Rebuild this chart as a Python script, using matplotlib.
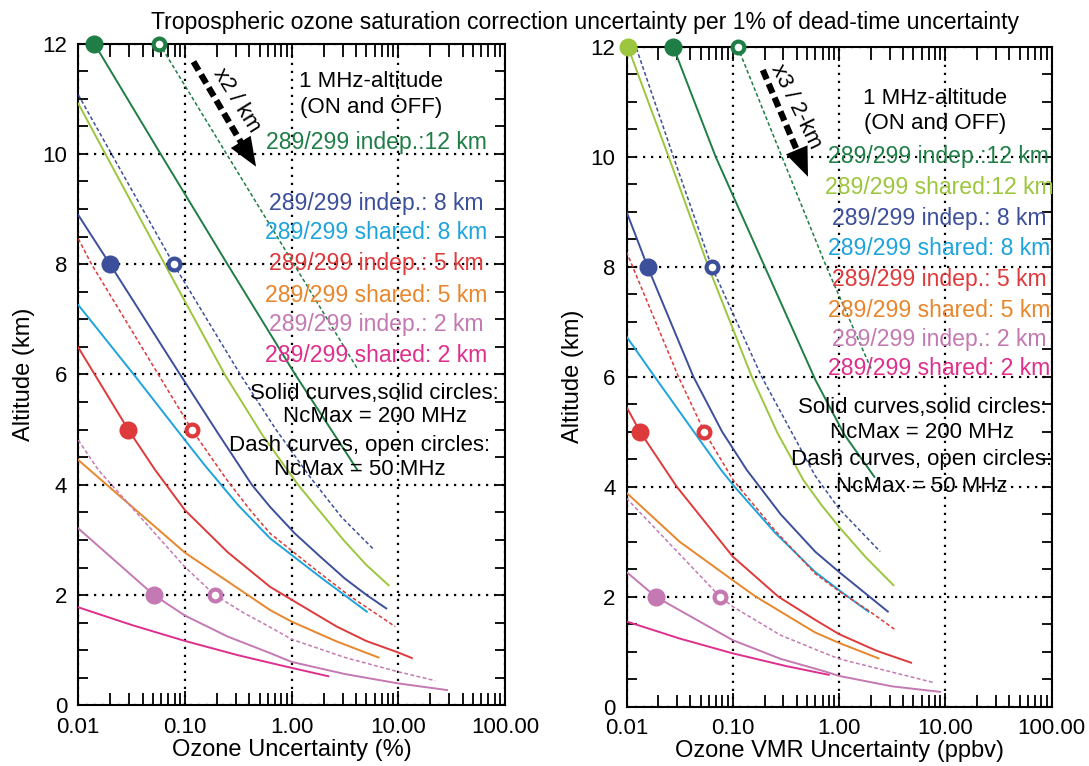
import matplotlib
matplotlib.use('Agg')
import matplotlib.pyplot as plt
from matplotlib.ticker import FixedLocator, FixedFormatter, MultipleLocator, NullFormatter

plt.rcParams['font.family'] = ['Liberation Sans', 'DejaVu Sans']

# ------------------------------------------------------------------
# Datos: (incertidumbre, altitud km)
# ------------------------------------------------------------------
# Panel izquierdo: Ozone Uncertainty (%)
l_indep12_200_x = [0.0141, 0.059, 0.25, 1.08, 4.1]
l_indep12_200_y = [12, 10, 8, 6, 4.28]
l_indep12_50_x = [0.0574, 0.245, 1.05, 4.12]
l_indep12_50_y = [12, 10, 8, 6.11]
l_shared12_200_x = [0.01, 0.0646, 0.236, 0.537, 1.15, 3.06, 5.0, 8.1]
l_shared12_200_y = [10.91, 8, 6, 4.89, 4, 3.0, 2.55, 2.18]
l_indep8_50_x = [0.01, 0.0282, 0.0794, 0.33, 0.708, 1.49, 2.95, 5.87]
l_indep8_50_y = [11.07, 9.52, 7.98, 6, 5.01, 4.14, 3.41, 2.83]
l_indep8_200_x = [0.01, 0.0198, 0.09, 0.2, 0.424, 0.628, 1.07, 1.85, 3.16, 5.07, 7.7]
l_indep8_200_y = [8.89, 8, 6, 4.96, 4, 3.6, 3.12, 2.70, 2.30, 2, 1.76]
l_shared8_200_x = [0.01, 0.0331, 0.1, 0.154, 0.316, 0.628, 1.85, 5.07]
l_shared8_200_y = [7.26, 6, 4.81, 4.35, 3.63, 3.03, 2.33, 1.70]
l_indep5_50_x = [0.01, 0.0133, 0.0563, 0.116, 0.245, 0.398, 0.628, 1.58, 3.41, 9.35]
l_indep5_50_y = [8.46, 8, 6, 5, 4.1, 3.57, 3.12, 2.5, 2.0, 1.43]
l_indep5_200_x = [0.01, 0.0294, 0.0525, 0.1, 0.251, 0.628, 2.65, 5.0, 10, 13.4]
l_indep5_200_y = [6.49, 5, 4.27, 3.54, 2.78, 2.15, 1.43, 1.17, 0.96, 0.86]
l_shared5_200_x = [0.01, 0.0185, 0.1, 0.251, 0.628, 1.0, 2.65, 6.52]
l_shared5_200_y = [4.45, 4, 2.77, 2.25, 1.73, 1.52, 1.16, 0.87]
l_indep2_50_x = [0.01, 0.0154, 0.1, 0.191, 0.355, 0.628, 1.0, 3.16, 10, 22.2]
l_indep2_50_y = [4.81, 4.27, 2.51, 2.0, 1.68, 1.42, 1.2, 0.87, 0.61, 0.45]
l_indep2_200_x = [0.01, 0.0513, 0.1, 0.251, 0.628, 1.0, 3.16, 10, 28.6]
l_indep2_200_y = [3.21, 2.0, 1.63, 1.25, 0.95, 0.79, 0.57, 0.40, 0.28]
l_shared2_200_x = [0.01, 0.0316, 0.1, 0.316, 0.78, 2.21]
l_shared2_200_y = [1.78, 1.46, 1.17, 0.91, 0.73, 0.53]

l_filled_x = [0.0141, 0.0198, 0.0294, 0.0513]
l_filled_y = [12, 8, 5, 2]
l_open_x = [0.0574, 0.0794, 0.116, 0.191]
l_open_y = [12, 8, 5, 2]

# Panel derecho: Ozone VMR Uncertainty (ppbv)
r_indep12_200_x = [0.0275, 0.069, 0.2, 0.6, 1.12, 2.15]
r_indep12_200_y = [12, 10, 8, 5.94, 4.95, 4.18]
r_indep12_50_x = [0.111, 0.29, 0.76, 2.0]
r_indep12_50_y = [12, 10, 8, 6.15]
r_shared12_200_x = [0.0103, 0.0249, 0.0589, 0.151, 0.263, 0.462, 0.676, 1.0, 1.78, 3.25]
r_shared12_200_y = [12, 10, 8, 6, 4.98, 4.12, 3.68, 3.27, 2.72, 2.21]
r_indep8_50_x = [0.0124, 0.0282, 0.0634, 0.187, 0.596, 1.0, 2.44]
r_indep8_50_y = [11.97, 9.95, 8, 6, 4.2, 3.6, 2.82]
r_indep8_200_x = [0.01, 0.0158, 0.0426, 0.0794, 0.136, 0.282, 0.596, 1.0, 2.88]
r_indep8_200_y = [9.0, 8, 6, 5.0, 4.3, 3.5, 2.82, 2.45, 1.73]
r_shared8_200_x = [0.01, 0.0184, 0.078, 0.104, 0.251, 0.596, 1.0, 1.89]
r_shared8_200_y = [6.73, 6, 4.3, 4.0, 3.16, 2.45, 2.12, 1.73]
r_indep5_50_x = [0.01, 0.0308, 0.054, 0.101, 0.251, 0.596, 1.0, 1.89, 3.43]
r_indep5_50_y = [8.27, 6, 5.0, 4.12, 3.2, 2.42, 2.1, 1.75, 1.39]
r_indep5_200_x = [0.01, 0.0134, 0.0297, 0.1, 0.269, 0.596, 1.0, 2.24, 4.77]
r_indep5_200_y = [5.45, 5.0, 4.0, 2.73, 2.0, 1.58, 1.32, 1.02, 0.8]
r_shared5_200_x = [0.01, 0.0316, 0.1, 0.165, 0.596, 1.0, 2.35]
r_shared5_200_y = [3.89, 3.0, 2.30, 2.0, 1.35, 1.16, 0.88]
r_indep2_50_x = [0.01, 0.0759, 0.1, 0.282, 0.74, 1.0, 7.74]
r_indep2_50_y = [3.79, 2.0, 1.82, 1.30, 0.97, 0.87, 0.44]
r_indep2_200_x = [0.01, 0.0188, 0.1, 0.282, 0.74, 1.0, 3.16, 8.96]
r_indep2_200_y = [2.45, 2.0, 1.21, 0.87, 0.64, 0.56, 0.37, 0.27]
r_shared2_200_x = [0.01, 0.0316, 0.1, 0.316, 0.8]
r_shared2_200_y = [1.55, 1.24, 0.97, 0.74, 0.58]

r_filled_x = [0.0103, 0.0275, 0.0158, 0.0134, 0.0188]
r_filled_y = [12, 12, 8, 5, 2]
r_open_x = [0.111, 0.0634, 0.054, 0.0759]
r_open_y = [12, 8, 5, 2]

# Textos
titulo = 'Tropospheric ozone saturation correction uncertainty per 1% of dead-time uncertainty'
leyenda_izq = ['289/299 indep.:12 km', '289/299 indep.: 8 km', '289/299 shared: 8 km',
               '289/299 indep.: 5 km', '289/299 shared: 5 km', '289/299 indep.: 2 km',
               '289/299 shared: 2 km']
leyenda_der = ['289/299 indep.:12 km', '289/299 shared:12 km', '289/299 indep.: 8 km',
               '289/299 shared: 8 km', '289/299 indep.: 5 km', '289/299 shared: 5 km',
               '289/299 indep.: 2 km', '289/299 shared: 2 km']
xticks = [0.01, 0.1, 1, 10, 100]
xtick_labels = ['0.01', '0.10', '1.00', '10.00', '100.00']

# Colores
C_DKGREEN = '#1f7d46'
C_LTGREEN = '#9cc63d'
C_BLUE = '#3c4f9b'
C_CYAN = '#1ea4dc'
C_RED = '#de3a3b'
C_ORANGE = '#e8862c'
C_PURPLE = '#c479b2'
C_MAGENTA = '#de2f8c'

DASH = (0, (2.5, 1.6))
FS = 16

# ------------------------------------------------------------------
fig = plt.figure(figsize=(10.89, 7.66), dpi=100)
ax1 = fig.add_axes([0.0719, 0.079, 0.3918, 0.8642])
ax2 = fig.add_axes([0.5753, 0.0774, 0.3903, 0.8616])


def curva(ax, x, y, color, dash=False):
    if dash:
        ax.plot(x, y, color=color, lw=1.1, ls=DASH, zorder=3)
    else:
        ax.plot(x, y, color=color, lw=1.4, zorder=3)


def puntos(ax, fx, fy, fcol, ox, oy, ocol):
    for x, y, c in zip(fx, fy, fcol):
        ax.plot(x, y, 'o', ms=12, color=c, mec=c, zorder=5, clip_on=False)
    for x, y, c in zip(ox, oy, ocol):
        ax.plot(x, y, 'o', ms=8.5, mfc='white', mec=c, mew=3, zorder=5, clip_on=False)


def ejes(ax, xlabel):
    ax.set_xscale('log')
    ax.set_xlim(0.01, 100)
    ax.set_ylim(0, 12)
    ax.xaxis.set_major_locator(FixedLocator(xticks))
    ax.xaxis.set_major_formatter(FixedFormatter(xtick_labels))
    ax.xaxis.set_minor_locator(FixedLocator([m * d for d in [0.01, 0.1, 1, 10] for m in range(2, 10)]))
    ax.xaxis.set_minor_formatter(NullFormatter())
    ax.yaxis.set_major_locator(MultipleLocator(2))
    ax.yaxis.set_minor_locator(MultipleLocator(0.5))
    ax.tick_params(which='both', direction='in', top=True, right=True, labelsize=FS, width=1.3)
    ax.tick_params(which='major', length=10, pad=8)
    ax.tick_params(axis='x', which='minor', length=9)
    ax.tick_params(axis='y', which='minor', length=7)
    ax.tick_params(axis='y', which='major', length=7)
    for s in ax.spines.values():
        s.set_linewidth(1.5)
    ax.grid(True, which='major', color='black', ls=(0, (1, 2.6)), lw=1.6, zorder=1)
    ax.set_xlabel(xlabel, fontsize=17, labelpad=1)
    ax.set_ylabel('Altitude (km)', fontsize=17, labelpad=5)


# Panel izquierdo
curva(ax1, l_indep12_200_x, l_indep12_200_y, C_DKGREEN)
curva(ax1, l_indep12_50_x, l_indep12_50_y, C_DKGREEN, dash=True)
curva(ax1, l_shared12_200_x, l_shared12_200_y, C_LTGREEN)
curva(ax1, l_indep8_50_x, l_indep8_50_y, C_BLUE, dash=True)
curva(ax1, l_indep8_200_x, l_indep8_200_y, C_BLUE)
curva(ax1, l_shared8_200_x, l_shared8_200_y, C_CYAN)
curva(ax1, l_indep5_50_x, l_indep5_50_y, C_RED, dash=True)
curva(ax1, l_indep5_200_x, l_indep5_200_y, C_RED)
curva(ax1, l_shared5_200_x, l_shared5_200_y, C_ORANGE)
curva(ax1, l_indep2_50_x, l_indep2_50_y, C_PURPLE, dash=True)
curva(ax1, l_indep2_200_x, l_indep2_200_y, C_PURPLE)
curva(ax1, l_shared2_200_x, l_shared2_200_y, C_MAGENTA)
puntos(ax1, l_filled_x, l_filled_y, [C_DKGREEN, C_BLUE, C_RED, C_PURPLE],
       l_open_x, l_open_y, [C_DKGREEN, C_BLUE, C_RED, C_PURPLE])
ejes(ax1, 'Ozone Uncertainty (%)')

# Panel derecho
curva(ax2, r_indep12_200_x, r_indep12_200_y, C_DKGREEN)
curva(ax2, r_indep12_50_x, r_indep12_50_y, C_DKGREEN, dash=True)
curva(ax2, r_shared12_200_x, r_shared12_200_y, C_LTGREEN)
curva(ax2, r_indep8_50_x, r_indep8_50_y, C_BLUE, dash=True)
curva(ax2, r_indep8_200_x, r_indep8_200_y, C_BLUE)
curva(ax2, r_shared8_200_x, r_shared8_200_y, C_CYAN)
curva(ax2, r_indep5_50_x, r_indep5_50_y, C_RED, dash=True)
curva(ax2, r_indep5_200_x, r_indep5_200_y, C_RED)
curva(ax2, r_shared5_200_x, r_shared5_200_y, C_ORANGE)
curva(ax2, r_indep2_50_x, r_indep2_50_y, C_PURPLE, dash=True)
curva(ax2, r_indep2_200_x, r_indep2_200_y, C_PURPLE)
curva(ax2, r_shared2_200_x, r_shared2_200_y, C_MAGENTA)
puntos(ax2, r_filled_x, r_filled_y, [C_LTGREEN, C_DKGREEN, C_BLUE, C_RED, C_PURPLE],
       r_open_x, r_open_y, [C_DKGREEN, C_BLUE, C_RED, C_PURPLE])
ejes(ax2, 'Ozone VMR Uncertainty (ppbv)')

# Textos del panel izquierdo
kw = dict(transform=ax1.transAxes, ha='center', va='center', fontsize=FS)
ax1.text(0.686, 0.942, '1 MHz-altitude', **kw)
ax1.text(0.686, 0.904, '(ON and OFF)', **kw)
for txt, fy, c in zip(leyenda_izq, [0.851, 0.759, 0.714, 0.667, 0.620, 0.575, 0.529],
                      [C_DKGREEN, C_BLUE, C_CYAN, C_RED, C_ORANGE, C_PURPLE, C_MAGENTA]):
    ax1.text(0.698, fy, txt, color=c, transform=ax1.transAxes, ha='center', va='center',
             fontsize=16.6)
ax1.text(0.695, 0.472, 'Solid curves,solid circles:', **kw)
ax1.text(0.695, 0.436, 'NcMax = 200 MHz', **kw)
ax1.text(0.660, 0.393, 'Dash curves, open circles:', **kw)
ax1.text(0.660, 0.356, 'NcMax = 50 MHz', **kw)

# Textos del panel derecho
kw = dict(transform=ax2.transAxes, ha='center', va='center', fontsize=FS)
ax2.text(0.726, 0.922, '1 MHz-altitude', **kw)
ax2.text(0.726, 0.883, '(ON and OFF)', **kw)
for txt, fy, c in zip(leyenda_der, [0.833, 0.787, 0.740, 0.695, 0.647, 0.601, 0.556, 0.513],
                      [C_DKGREEN, C_LTGREEN, C_BLUE, C_CYAN, C_RED, C_ORANGE, C_PURPLE, C_MAGENTA]):
    ax2.text(0.735, fy, txt, color=c, transform=ax2.transAxes, ha='center', va='center',
             fontsize=16.6)
ax2.text(0.695, 0.453, 'Solid curves,solid circles:', **kw)
ax2.text(0.695, 0.415, 'NcMax = 200 MHz', **kw)
ax2.text(0.695, 0.374, 'Dash curves, open circles:', **kw)
ax2.text(0.695, 0.333, 'NcMax = 50 MHz', **kw)


def flecha(ax, p0, base, tip, texto, tpos, rot):
    ax.plot([p0[0], base[0]], [p0[1], base[1]], transform=ax.transAxes,
            color='black', lw=4.5, ls=(0, (1.6, 0.8)), solid_capstyle='butt', zorder=4)
    ax.annotate('', xy=tip, xytext=base, xycoords='axes fraction', textcoords='axes fraction',
                arrowprops=dict(arrowstyle='-|>,head_length=1.5,head_width=0.6', color='black',
                                lw=0, mutation_scale=14, shrinkA=0, shrinkB=0), zorder=4)
    ax.text(tpos[0], tpos[1], texto, transform=ax.transAxes, rotation=rot,
            rotation_mode='anchor', ha='center', va='center', fontsize=FS)


flecha(ax1, (0.270, 0.9725), (0.382, 0.850), (0.4167, 0.8139), 'x2 / km', (0.372, 0.9147), -58)
flecha(ax2, (0.3207, 0.9647), (0.401, 0.843), (0.427, 0.803), 'x3 / 2-km', (0.399, 0.9086), -64)

fig.text(0.537, 1 - 23 / 766, titulo, ha='center', va='center', fontsize=16.6)

fig.savefig('out.png', dpi=100)
